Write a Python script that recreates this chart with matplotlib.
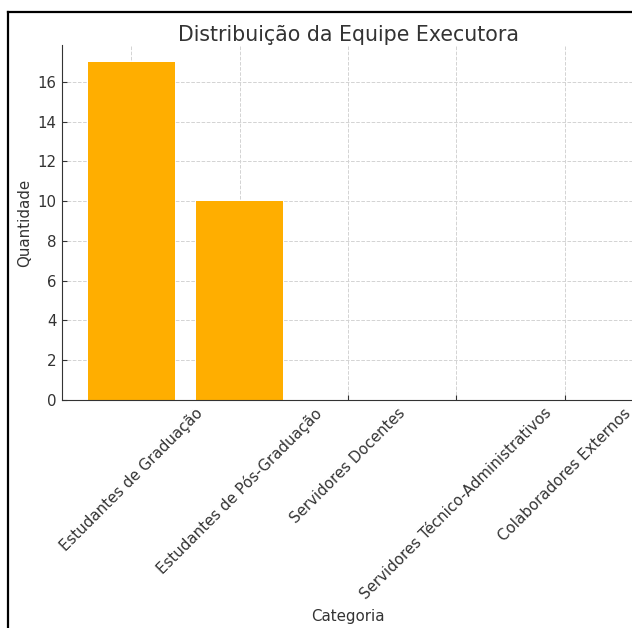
import matplotlib
matplotlib.use("Agg")
import matplotlib.pyplot as plt
from matplotlib.lines import Line2D

# datos
categorias = ['Estudantes de Graduação', 'Estudantes de Pós-Graduação',
              'Servidores Docentes', 'Servidores Técnico-Administrativos',
              'Colaboradores Externos']
quantidades = [17, 10, 0, 0, 0]

W, H = 632, 628
fig = plt.figure(figsize=(W / 100, H / 100), dpi=100)

# ejes en coordenadas de píxel (recorte de la captura original)
x0, x1 = 62, 634
y0, y1 = 400, 45
ax = fig.add_axes([x0 / W, (H - y0) / H, (x1 - x0) / W, (y0 - y1) / H])

ax.bar(categorias, quantidades, color='#FFAE00', width=0.8, zorder=2)
ax.set_ylim(0, 17.85)
ax.set_xlim(-0.64, 4.64)
ax.set_yticks(range(0, 17, 2))

txt = '#333333'
ax.set_title('Distribuição da Equipe Executora', fontsize=14.8, color=txt, pad=2)
ax.set_xlabel('Categoria', fontsize=10.8, color=txt)
ax.set_ylabel('Quantidade', fontsize=10.8, color=txt)
ax.xaxis.set_label_coords(0.5, (400 - 609) / (y0 - y1))
ax.yaxis.set_label_coords((32 - x0) / (x1 - x0), 0.5)
ax.tick_params(axis='both', labelsize=10.8, colors=txt, length=3.5,
               direction='in', pad=4)
plt.setp(ax.get_xticklabels(), rotation=45, ha='center')

ax.grid(True, linestyle='--', color='#d3d3d3', linewidth=0.7, zorder=0)
ax.set_axisbelow(True)
for s in ['top', 'right']:
    ax.spines[s].set_visible(False)
for s in ['left', 'bottom']:
    ax.spines[s].set_color(txt)

# marco negro de la captura
fig.add_artist(Line2D([8 / W, 8 / W], [0, 1 - 12 / H], color='black', lw=1.6))
fig.add_artist(Line2D([8 / W, 1], [1 - 12 / H, 1 - 12 / H], color='black', lw=1.6))

fig.savefig('out.png', dpi=100)
